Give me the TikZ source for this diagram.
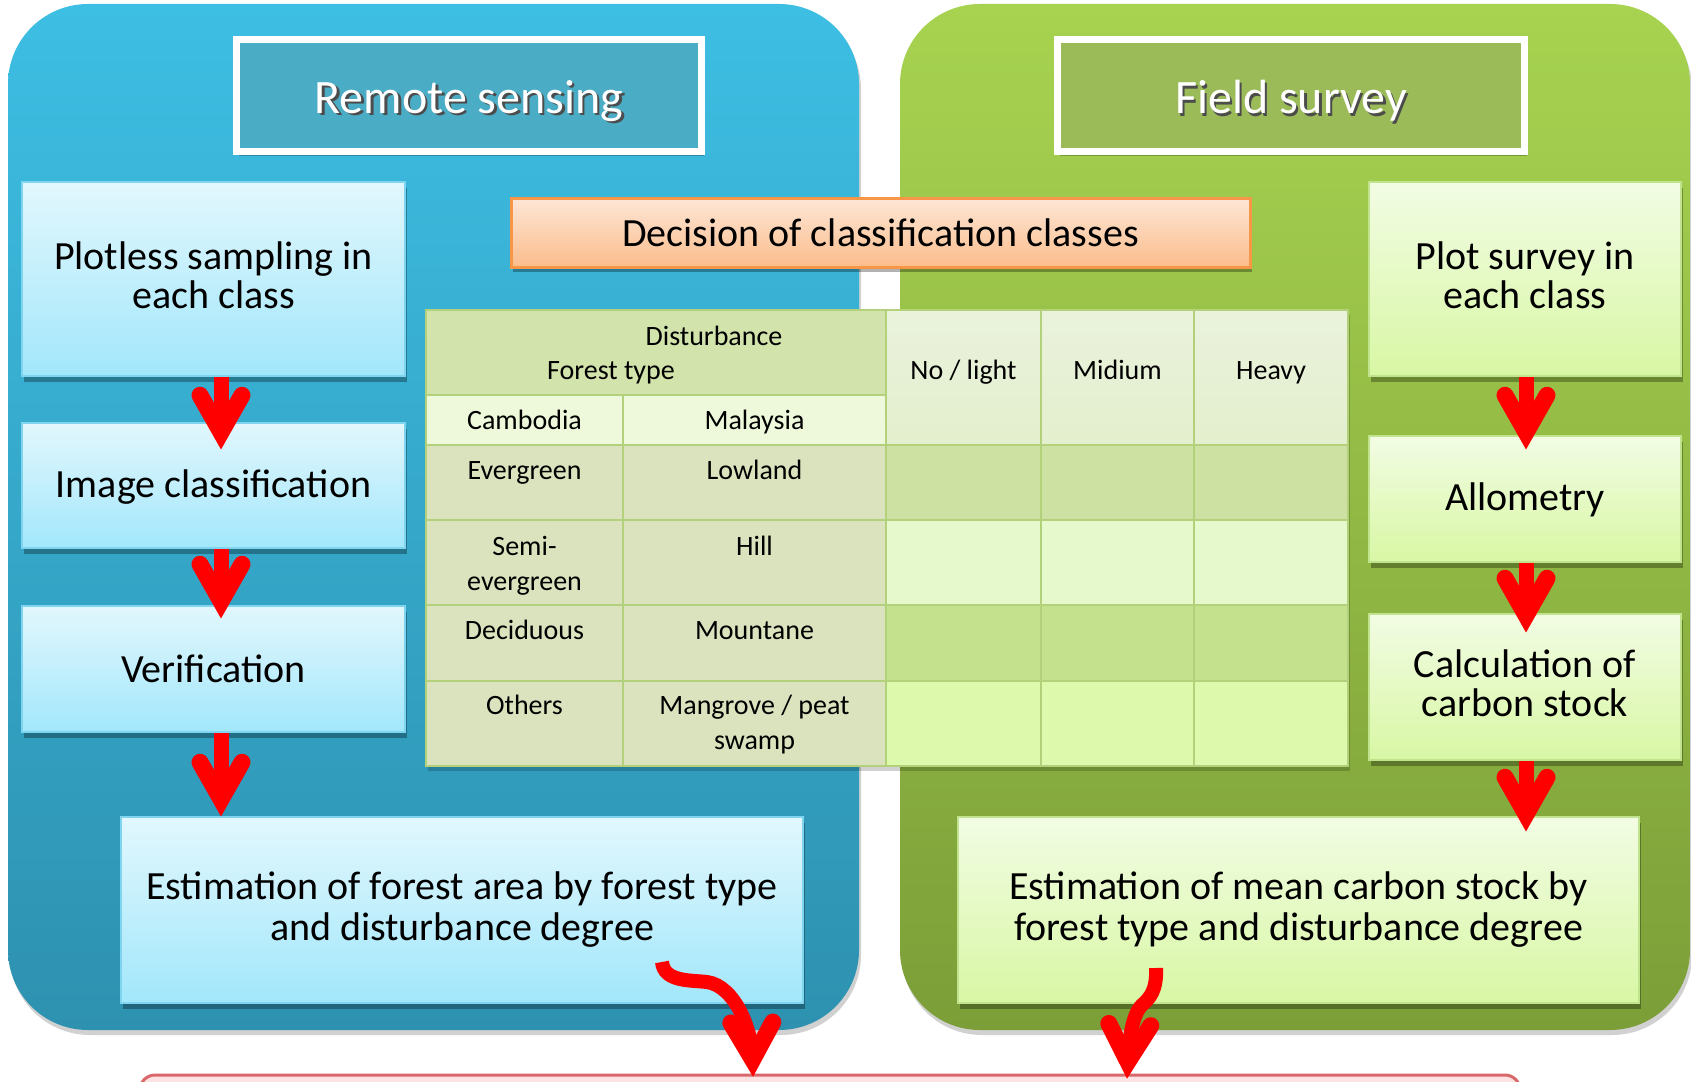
\documentclass[tikz,border=0pt]{standalone}
\usepackage{fontspec}
\setmainfont{Carlito}
\usetikzlibrary{calc,shadows,arrows.meta}

\definecolor{bluetop}{HTML}{3DBEE3}
\definecolor{bluebot}{HTML}{2E91B0}
\definecolor{greentop}{HTML}{A7D350}
\definecolor{greenbot}{HTML}{7C9E38}
\definecolor{rstitle}{HTML}{4BACC6}
\definecolor{fstitle}{HTML}{9BBB59}
\definecolor{lboxtop}{HTML}{E2F7FD}
\definecolor{lboxbot}{HTML}{A2E7FB}
\definecolor{lboxline}{HTML}{7FD5F0}
\definecolor{rboxtop}{HTML}{F2FCE4}
\definecolor{rboxbot}{HTML}{D8F7A4}
\definecolor{rboxline}{HTML}{C2E38E}
\definecolor{ortop}{HTML}{FDE6D6}
\definecolor{orbot}{HTML}{FBBD8C}
\definecolor{orline}{HTML}{F79646}
\definecolor{hdrL}{HTML}{D2E3AB}
\definecolor{cambC}{HTML}{EDF9DA}
\definecolor{hdrRtop}{HTML}{EAF2DC}
\definecolor{hdrRbot}{HTML}{E3EFCD}
\definecolor{dataL}{HTML}{DAE3BE}
\definecolor{darkA}{HTML}{CDE2A2}
\definecolor{darkB}{HTML}{C4E28E}
\definecolor{lightA}{HTML}{E6F9CC}
\definecolor{lightB}{HTML}{DDF9AC}
\definecolor{gridc}{HTML}{B3D07A}
\definecolor{pinkfill}{HTML}{FDE3E3}
\definecolor{pinkline}{HTML}{D9686A}

\pgfdeclarearrow{
  name = RBarb,
  setup code = {
    \pgfarrowssettipend{0pt}
    \pgfarrowssetlineend{-18pt}
    \pgfarrowssetvisualbackend{-62pt}
    \pgfarrowssetbackend{-62pt}
    \pgfarrowshullpoint{0pt}{0pt}
    \pgfarrowshullpoint{-63pt}{30pt}
    \pgfarrowshullpoint{-63pt}{-30pt}
  },
  drawing code = {
    \pgfsetlinewidth{17pt}
    \pgfsetroundcap
    \pgfsetmiterjoin
    \pgfsetdash{}{0pt}
    \pgfpathmoveto{\pgfqpoint{-54pt}{21pt}}
    \pgfpathlineto{\pgfqpoint{-17pt}{0pt}}
    \pgfpathlineto{\pgfqpoint{-54pt}{-21pt}}
    \pgfusepathqstroke
  }
}

\newcommand{\shiftup}[2]{\raisebox{#1}[\height][\depth]{\begin{tabular}{@{}c@{}}#2\end{tabular}}}

\begin{document}
\begin{tikzpicture}[x=1pt,y=-1pt,
  panel/.style={rectangle, rounded corners=80pt, inner sep=0pt,
    drop shadow={shadow xshift=2pt, shadow yshift=-5pt, opacity=0.18, fill=black}},
  titlebox/.style={rectangle, draw=white, line width=7pt, inner sep=0pt,
    minimum height=112pt,
    drop shadow={shadow xshift=2pt, shadow yshift=-4pt, opacity=0.25, fill=black}},
  titletext/.style={inner sep=0pt, font=\fontsize{48}{50}\selectfont},
  lbox/.style={rectangle, inner sep=0pt, top color=lboxtop, bottom color=lboxbot,
    draw=lboxline, line width=1.5pt, align=center,
    font=\fontsize{40}{37}\selectfont,
    drop shadow={shadow xshift=2pt, shadow yshift=-6pt, opacity=0.3, fill=black}},
  rbox/.style={lbox, top color=rboxtop, bottom color=rboxbot, draw=rboxline},
  bigtext/.style={font=\fontsize{40}{41}\selectfont},
  tcell/.style={inner sep=0pt, anchor=base, font=\fontsize{28}{35}\selectfont},
  redline/.style={draw=red, line width=15pt, -{RBarb}},
]
\clip (0,0) rectangle (1691,1081);
\fill[white] (0,0) rectangle (1691,1081);

% panels
\node[panel, top color=bluetop, bottom color=bluebot,
  minimum width=851pt, minimum height=1026pt] (bluepanel) at (433.5,517) {};
\node[panel, top color=greentop, bottom color=greenbot,
  minimum width=790pt, minimum height=1026pt] (greenpanel) at (1295,517) {};

% titles
\node[titlebox, fill=rstitle, minimum width=465pt] (rstitle) at (469,95.5) {};
\node[titletext, text=black!70] (rsshadow) at (471.5,103.5) {Remote sensing};
\node[titletext, text=white] (rstext) at (469,101) {Remote sensing};
\node[titlebox, fill=fstitle, minimum width=467pt] (fstitle) at (1291,95.5) {};
\node[titletext, text=black!70] (fsshadow) at (1293.5,103.5) {Field survey};
\node[titletext, text=white] (fstext) at (1291,101) {Field survey};

% left column
\node[lbox, minimum width=383pt, minimum height=194pt] (plotless) at (213.5,279)
  {\shiftup{-2pt}{Plotless sampling in\\each class}};
\node[lbox, minimum width=383pt, minimum height=125pt] (imgclass) at (213.5,485.5)
  {\shiftup{-4pt}{Image classification}};
\node[lbox, minimum width=383pt, minimum height=126pt] (verif) at (213.5,669)
  {Verification};
\node[lbox, bigtext, minimum width=682pt, minimum height=186pt] (estA) at (462,910)
  {Estimation of forest area by forest type\\and disturbance degree};

% right column
\node[rbox, minimum width=312pt, minimum height=194pt] (plotsurvey) at (1525,279)
  {\shiftup{-2pt}{Plot survey in\\each class}};
\node[rbox, minimum width=312pt, minimum height=126pt] (allom) at (1525,499)
  {\shiftup{-3pt}{Allometry}};
\node[rbox, minimum width=312pt, minimum height=146pt] (calc) at (1525,687)
  {\shiftup{-2pt}{Calculation of\\carbon stock}};
\node[rbox, bigtext, minimum width=681pt, minimum height=186pt] (estC) at (1298.5,910)
  {Estimation of mean carbon stock by\\forest type and disturbance degree};

% decision box
\node[rectangle, inner sep=0pt, top color=ortop, bottom color=orbot, draw=orline,
  line width=3pt, minimum width=739pt, minimum height=69pt,
  font=\fontsize{40}{41}\selectfont,
  drop shadow={shadow xshift=2pt, shadow yshift=-5pt, opacity=0.3, fill=black}]
  (decision) at (880.5,232.5) {Decision of classification classes};

% table
\fill[black, opacity=0.18] (428,315) rectangle (1350,771);
\fill[hdrL] (426,310) rectangle (886,395);
\fill[cambC] (426,395) rectangle (886,445);
\shade[top color=hdrRtop, bottom color=hdrRbot] (886,310) rectangle (1348,445);
\fill[dataL] (426,445) rectangle (886,766);
\fill[darkA] (886,445) rectangle (1348,520);
\fill[lightA] (886,520) rectangle (1348,605);
\fill[darkB] (886,605) rectangle (1348,681);
\fill[lightB] (886,681) rectangle (1348,766);
\begin{scope}[draw=gridc, line width=2.5pt]
  \draw (426,310) rectangle (1348,766);
  \draw (623,395) -- (623,766);
  \draw (886,310) -- (886,766);
  \draw (1041,310) -- (1041,766);
  \draw (1194,310) -- (1194,766);
  \draw (426,395) -- (886,395);
  \draw (426,445) -- (1348,445);
  \draw (426,520) -- (1348,520);
  \draw (426,605) -- (1348,605);
  \draw (426,681) -- (1348,681);
\end{scope}
\node[tcell] (tdist) at (714,345) {Disturbance};
\node[tcell] (tfor) at (611,379) {Forest type};
\node[tcell] (tno) at (963.5,379) {No / light};
\node[tcell] (tmid) at (1117.5,379) {Midium};
\node[tcell] (theavy) at (1271,379) {Heavy};
\node[tcell] (tcamb) at (524.5,429) {Cambodia};
\node[tcell] (tmal) at (754.5,429) {Malaysia};
\node[tcell] (tever) at (524.5,479) {Evergreen};
\node[tcell] (tlow) at (754.5,479) {Lowland};
\node[tcell] (tsemi) at (524.5,555) {Semi-};
\node[tcell] (tsemib) at (524.5,590) {evergreen};
\node[tcell] (thill) at (754.5,555) {Hill};
\node[tcell] (tdec) at (524.5,639) {Deciduous};
\node[tcell] (tmount) at (754.5,639) {Mountane};
\node[tcell] (toth) at (524.5,714) {Others};
\node[tcell] (tmang) at (754.5,714) {Mangrove / peat};
\node[tcell] (tswamp) at (754.5,749) {swamp};

% result box (cropped at the bottom)
\node[rectangle, rounded corners=15pt, fill=pinkfill, draw=pinkline, line width=3pt,
  minimum width=1380pt, minimum height=80pt, inner sep=0pt] (result) at (830,1115) {};

% arrows
\coordinate (lx) at (221,0);
\coordinate (rx) at (1526,0);
\draw[redline] (plotless.south -| lx) -- ($(imgclass.north -| lx)+(0,27)$);
\draw[redline] (imgclass.south -| lx) -- ($(verif.north -| lx)+(0,13)$);
\draw[redline] (verif.south -| lx) -- (estA.north -| lx);
\draw[redline] (plotsurvey.south -| rx) -- ($(allom.north -| rx)+(0,14)$);
\draw[redline] (allom.south -| rx) -- ($(calc.north -| rx)+(0,19)$);
\draw[redline] (calc.south -| rx) -- ($(estC.north -| rx)+(0,15)$);

\coordinate (s1) at (662,962);
\coordinate (e1) at (753,0);
\coordinate (s2) at (1156,968);
\coordinate (e2) at (1127,0);
\draw[redline, line width=14pt] (s1) .. controls (664,982) and (690,980) .. (707,982)
  .. controls (735,986) and (752,1030) .. ($(result.north -| e1)+(0,3)$);
\draw[redline, line width=14pt] (s2) .. controls (1157,990) and (1150,998) .. (1142,1005)
  .. controls (1132,1015) and (1129,1040) .. ($(result.north -| e2)+(0,5)$);
\end{tikzpicture}
\end{document}
